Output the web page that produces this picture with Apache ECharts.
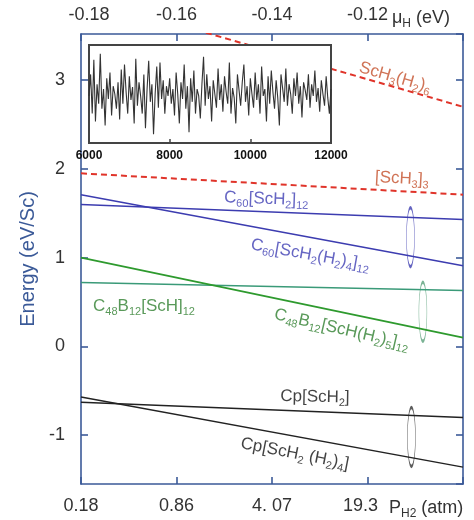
<!DOCTYPE html>
<html>
<head>
<meta charset="utf-8">
<script src="https://cdn.jsdelivr.net/npm/echarts/dist/echarts.min.js"></script>
<style>
  html, body { margin: 0; padding: 0; background: #fff; }
  #main { width: 474px; height: 520px; }
</style>
</head>
<body>
<div id="main"></div>
<script>
// x runs over the pressure / chemical potential ticks (0..4)
var xEnds = [0, 4];
var bottomLabels = ['0.18', '0.86', '4. 07', '19.3'];
var topLabels = ['-0.18', '-0.16', '-0.14', '-0.12'];

// energies at left and right edge (eV/Sc)
var sch3h26 = [3.94, 2.70];
var sch3_3 = [1.95, 1.71];
var c60sch2 = [1.60, 1.43];
var c60sch2h24 = [1.71, 0.91];
var c48sch = [0.72, 0.63];
var c48schh25 = [1.00, 0.10];
var cpsch2 = [-0.63, -0.80];
var cpsch2h24 = [-0.57, -1.36];

// ellipse marks [x, y]
var ellipseBlue = [[3.45, 1.23]];
var ellipseGreen = [[3.58, 0.39]];
var ellipseBlack = [[3.46, -1.02]];

// curve labels [x, y, rotate]
var labelPos = [
  [3.29, 3.03, -16],
  [3.36, 1.89, -3],
  [1.94, 1.66, -2],
  [2.40, 1.03, -10],
  [0.66, 0.45, 0],
  [2.73, 0.19, -13],
  [2.45, -0.57, -1],
  [2.24, -1.21, -11]
];
var labelText = [
  '{n|ScH}{s|3}{n|(H}{s|2}{n|)}{s|6}',
  '{n|[ScH}{s|3}{n|]}{s|3}',
  '{n|C}{s|60}{n|[ScH}{s|2}{n|]}{s|12}',
  '{n|C}{s|60}{n|[ScH}{s|2}{n|(H}{s|2}{n|)}{s|4}{n|]}{s|12}',
  '{n|C}{s|48}{n|B}{s|12}{n|[ScH]}{s|12}',
  '{n|C}{s|48}{n|B}{s|12}{n|[ScH(H}{s|2}{n|)}{s|5}{n|]}{s|12}',
  '{n|Cp[ScH}{s|2}{n|]}',
  '{n|Cp[ScH}{s|2}{n| (H}{s|2}{n|)}{s|4}{n|]}'
];
var labelColor = ['#c4502c', '#c4502c', '#4040b4', '#4040b4', '#2f7f2f', '#2f7f2f', '#111', '#111'];

// inset trace, x from 6000 to 12000
var insetStart = 6000, insetStep = 40;
var insetValues = [
  48, 70, 30, 85, 22, 60, 40, 91, 35, 55, 18, 66, 45, 72, 28, 58, 50, 35, 62, 24,
  75, 40, 80, 52, 30, 68, 44, 57, 20, 86, 38, 62, 48, 30, 70, 15, 55, 84, 42, 60,
  9, 50, 78, 36, 82, 45, 64, 30, 58, 48, 66,
  40, 55, 28, 72, 50, 20, 62, 45, 80, 35, 58, 11, 66, 42, 74, 30, 55, 48, 25, 60,
  88, 38, 70, 45, 58, 22, 64, 50, 36, 76, 44, 60, 32, 68, 52, 40, 82, 30, 56, 46,
  20, 70, 54, 38, 62, 80, 42, 58, 28, 66,
  50, 36, 72, 44, 60, 30, 78, 48, 55, 22, 68, 40, 74, 52, 35, 64, 46, 18, 70, 56,
  42, 76, 38, 60, 50, 30, 66, 48, 72, 40, 58, 26, 62, 54, 44, 70, 36, 60, 48, 74,
  42, 56, 32, 64, 50, 38, 68, 46, 30, 55
];

var FONT = 'Liberation Sans, Arial, sans-serif';
var AXIS_BLUE = '#3b5a98';

function pair(vals) {
  return [[xEnds[0], vals[0]], [xEnds[1], vals[1]]];
}
function lineSeries(vals, color, width, dashed) {
  return {
    type: 'line',
    xAxisIndex: 0,
    yAxisIndex: 0,
    data: pair(vals),
    symbol: 'none',
    silent: true,
    lineStyle: { color: color, width: width, type: dashed ? [6, 4] : 'solid' }
  };
}
function ellipseSeries(data, color) {
  return {
    type: 'scatter',
    xAxisIndex: 0,
    yAxisIndex: 0,
    data: data,
    symbol: 'circle',
    symbolSize: [8, 59],
    silent: true,
    itemStyle: { color: 'rgba(0,0,0,0)', borderColor: color, borderWidth: 1.3 }
  };
}

var insetData = [];
for (var i = 0; i < insetValues.length; i++) {
  insetData.push([insetStart + i * insetStep, insetValues[i]]);
}

var labelData = [];
for (var j = 0; j < labelPos.length; j++) {
  labelData.push({
    value: [labelPos[j][0], labelPos[j][1]],
    label: { rotate: labelPos[j][2], color: labelColor[j], formatter: labelText[j] }
  });
}

var richSub = {
  n: { fontSize: 17, fontFamily: FONT, lineHeight: 22 },
  s: { fontSize: 11, fontFamily: FONT, verticalAlign: 'bottom' }
};

var myChart = echarts.init(document.getElementById('main'));

var option = {
  animation: false,
  backgroundColor: '#fff',
  grid: [
    { left: 81, top: 34, right: 11, bottom: 36 },
    { left: 89, top: 45, width: 242, height: 98, show: true, backgroundColor: '#fff',
      borderColor: '#444', borderWidth: 2, z: 10 }
  ],
  xAxis: [
    {
      type: 'value', gridIndex: 0, position: 'bottom', min: 0, max: 4, interval: 1,
      splitLine: { show: false },
      axisLine: { onZero: false, lineStyle: { color: AXIS_BLUE, width: 1.6 } },
      axisTick: { inside: true, length: 7, lineStyle: { color: AXIS_BLUE, width: 1.6 } },
      axisLabel: {
        margin: 13, color: '#333', fontSize: 18, fontFamily: FONT,
        formatter: function (v) {
          if (v === 3) return '{l|' + bottomLabels[3] + '}';
          return bottomLabels[v] || '';
        },
        rich: { l: { fontSize: 18, fontFamily: FONT, color: '#333', padding: [0, 14, 0, 0] } }
      }
    },
    {
      type: 'value', gridIndex: 0, position: 'top', min: 0, max: 4, interval: 1,
      splitLine: { show: false },
      axisLine: { onZero: false, lineStyle: { color: AXIS_BLUE, width: 1.6 } },
      axisTick: { inside: true, length: 7, lineStyle: { color: AXIS_BLUE, width: 1.6 } },
      axisLabel: {
        margin: 10, color: '#333', fontSize: 18, fontFamily: FONT,
        formatter: function (v) {
          if (v === 0) return '{l|' + topLabels[0] + '}';
          return topLabels[v] || '';
        },
        rich: { l: { fontSize: 18, fontFamily: FONT, color: '#333', padding: [0, 0, 0, 16] } }
      }
    },
    {
      type: 'value', gridIndex: 1, min: 6000, max: 12000, interval: 2000, z: 11,
      splitLine: { show: false },
      axisLine: { show: false, onZero: false },
      axisTick: { inside: true, length: 4, lineStyle: { color: '#444', width: 1.5 } },
      axisLabel: { margin: 7, color: '#111', fontSize: 12, fontWeight: 'bold', fontFamily: FONT,
        formatter: function (v) { return String(v); } }
    }
  ],
  yAxis: [
    {
      type: 'value', gridIndex: 0, position: 'left', min: -1.55, max: 3.52,
      name: 'Energy (eV/Sc)', nameLocation: 'middle', nameGap: 37,
      nameTextStyle: { color: AXIS_BLUE, fontSize: 20, fontFamily: FONT },
      splitLine: { show: false },
      axisLine: { show: true, onZero: false, lineStyle: { color: AXIS_BLUE, width: 1.6 } },
      axisTick: { show: true, inside: true, length: 7, lineStyle: { color: AXIS_BLUE, width: 1.6 } },
      axisLabel: {
        margin: 16, color: '#333', fontSize: 18, fontFamily: FONT,
        showMinLabel: false, showMaxLabel: false,
        formatter: function (v) { return Math.abs(v - Math.round(v)) < 1e-6 ? String(Math.round(v)) : ''; }
      }
    },
    {
      type: 'value', gridIndex: 0, position: 'right', min: -1.55, max: 3.52,
      splitLine: { show: false },
      axisLine: { show: true, onZero: false, lineStyle: { color: AXIS_BLUE, width: 1.6 } },
      axisTick: { show: true, inside: true, length: 7, lineStyle: { color: AXIS_BLUE, width: 1.6 } },
      axisLabel: { show: false }
    },
    {
      type: 'value', gridIndex: 1, min: 0, max: 100, show: false
    }
  ],
  graphic: [
    {
      type: 'text', x: 389, y: 508, z: 20,
      style: { text: '{n|P}{s|H2}{n| (atm)}', verticalAlign: 'middle', fill: '#333',
        rich: { n: { fontSize: 18, fontFamily: FONT, lineHeight: 24 }, s: { fontSize: 12, fontFamily: FONT, verticalAlign: 'bottom' } } }
    },
    {
      type: 'text', x: 392, y: 18, z: 20,
      style: { text: '{n|μ}{s|H}{n| (eV)}', verticalAlign: 'middle', fill: '#333',
        rich: { n: { fontSize: 18, fontFamily: FONT, lineHeight: 24 }, s: { fontSize: 12, fontFamily: FONT, verticalAlign: 'bottom' } } }
    }
  ],
  series: [
    lineSeries(sch3h26, '#e0342a', 2, true),
    lineSeries(sch3_3, '#e0342a', 2, true),
    lineSeries(c60sch2, '#3c3cb0', 1.5, false),
    lineSeries(c60sch2h24, '#3c3cb0', 1.5, false),
    lineSeries(c48sch, '#3a9a78', 1.5, false),
    lineSeries(c48schh25, '#2e9a2e', 1.8, false),
    lineSeries(cpsch2, '#222', 1.5, false),
    lineSeries(cpsch2h24, '#222', 1.5, false),
    ellipseSeries(ellipseBlue, '#3c3cb0'),
    ellipseSeries(ellipseGreen, '#5aa07a'),
    ellipseSeries(ellipseBlack, '#333'),
    {
      type: 'scatter',
      xAxisIndex: 0,
      yAxisIndex: 0,
      symbolSize: 0,
      silent: true,
      data: labelData,
      z: 5,
      label: { show: true, position: 'inside', fontFamily: FONT, rich: richSub }
    },
    {
      type: 'line',
      xAxisIndex: 2,
      yAxisIndex: 2,
      data: insetData,
      symbol: 'none',
      silent: true,
      z: 12,
      lineStyle: { color: '#333', width: 1.1 }
    }
  ]
};

myChart.setOption(option);
</script>
</body>
</html>
